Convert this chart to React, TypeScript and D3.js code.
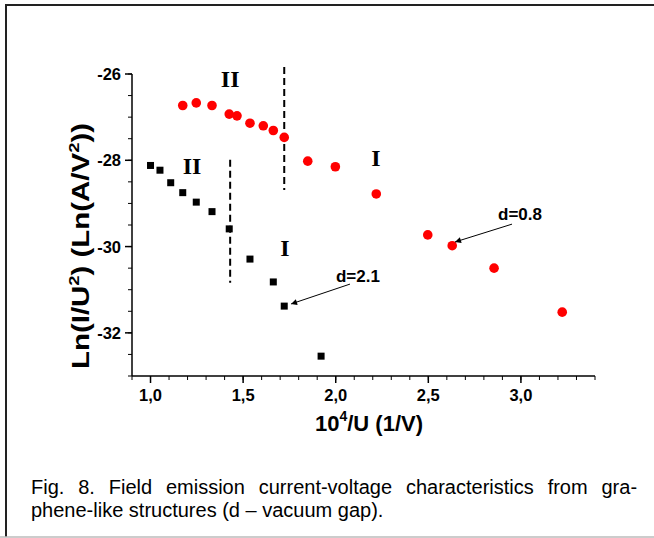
import React from "react";
import * as d3 from "d3";

const redX = [1.174, 1.247, 1.332, 1.425, 1.467, 1.537, 1.609, 1.663, 1.722, 1.849, 1.998, 2.219, 2.497, 2.629, 2.855, 3.223];
const redY = [-26.73, -26.67, -26.73, -26.93, -26.97, -27.14, -27.2, -27.31, -27.47, -28.02, -28.15, -28.78, -29.73, -29.98, -30.5, -31.52];
const blackX = [1.0, 1.051, 1.109, 1.174, 1.247, 1.332, 1.425, 1.537, 1.663, 1.722, 1.921];
const blackY = [-28.12, -28.23, -28.52, -28.75, -28.97, -29.19, -29.59, -30.29, -30.82, -31.38, -32.54];
const xMajorTicks = [1.0, 1.5, 2.0, 2.5, 3.0];
const xMinorTicks = d3.range(9, 35).map((v) => v / 10);
const yMajorTicks = [-26, -28, -30, -32];
const yMinorTicks = d3.range(-66, -51).map((v) => v / 2);
const dashLines = [
  { x: 1.722, y0: -25.84, y1: -28.69 },
  { x: 1.43, y0: -27.99, y1: -30.84 },
];
const regionLabels = [
  { t: "II", x: 1.43, y: -26.3 },
  { t: "II", x: 1.224, y: -28.32 },
  { t: "I", x: 2.217, y: -28.13 },
  { t: "I", x: 1.726, y: -30.22 },
];
const annotations = [
  { t: "d=2.1", tx: 2.12, ty: -30.82, ax: 2.077, ay: -30.87, px: 1.759, py: -31.33 },
  { t: "d=0.8", tx: 2.995, ty: -29.38, ax: 2.952, ay: -29.48, px: 2.644, py: -29.894 },
];
const caption1 = "Fig. 8. Field emission current-voltage characteristics from gra-";
const caption2 = "phene-like structures (d \u2013 vacuum gap).";

export default function App() {
  const x = d3.scaleLinear().domain([0.9, 3.4]).range([132, 595]);
  const y = d3.scaleLinear().domain([-33, -26]).range([376, 74]);
  const sans = "'Liberation Sans', Arial, sans-serif";
  const serif = "'Liberation Serif', 'Times New Roman', serif";
  const fmt = (v: number) => v.toFixed(1).replace(".", ",");
  return (
    <svg width={654} height={538} style={{ position: "absolute", left: 0, top: 0, background: "#fff" }}>
      <defs>
        <marker id="ah" viewBox="0 0 10 10" refX="10" refY="5" markerWidth="9" markerHeight="6" orient="auto" markerUnits="userSpaceOnUse">
          <path d="M0,0 L10,5 L0,10 z" fill="#000" />
        </marker>
      </defs>
      {/* frame */}
      <line x1={6} y1={5} x2={654} y2={5} stroke="#222" strokeWidth={2} />
      <line x1={6} y1={4} x2={6} y2={537} stroke="#222" strokeWidth={2} />
      <line x1={0} y1={537} x2={654} y2={537} stroke="#bbb" strokeWidth={1.5} />
      {/* axes */}
      <line x1={x(0.9)} y1={y(-33)} x2={x(3.4)} y2={y(-33)} stroke="#000" strokeWidth={1.5} />
      <line x1={x(0.9)} y1={y(-33)} x2={x(0.9)} y2={y(-26)} stroke="#000" strokeWidth={1.5} />
      {xMinorTicks.map((v, i) => (
        <line key={"xm" + i} x1={x(v)} x2={x(v)} y1={y(-33)} y2={y(-33) + 4} stroke="#000" strokeWidth={1} />
      ))}
      {xMajorTicks.map((v, i) => (
        <g key={"xM" + i}>
          <line x1={x(v)} x2={x(v)} y1={y(-33)} y2={y(-33) + 7} stroke="#000" strokeWidth={1.5} />
          <text x={x(v)} y={401} textAnchor="middle" fontFamily={sans} fontWeight="bold" fontSize={16.5}>{fmt(v)}</text>
        </g>
      ))}
      {yMinorTicks.map((v, i) => (
        <line key={"ym" + i} x1={x(0.9) - 4} x2={x(0.9)} y1={y(v)} y2={y(v)} stroke="#000" strokeWidth={1} />
      ))}
      {yMajorTicks.map((v, i) => (
        <g key={"yM" + i}>
          <line x1={x(0.9) - 7} x2={x(0.9)} y1={y(v)} y2={y(v)} stroke="#000" strokeWidth={1.5} />
          <text x={121} y={y(v) + 6} textAnchor="end" fontFamily={sans} fontWeight="bold" fontSize={16.5}>{v}</text>
        </g>
      ))}
      {/* axis titles */}
      <text x={369} y={431} textAnchor="middle" fontFamily={sans} fontWeight="bold" fontSize={22}>
        10<tspan fontSize={14} dy={-10}>4</tspan><tspan dy={10}>/U (1/V)</tspan>
      </text>
      <text transform="translate(89,246) rotate(-90)" textAnchor="middle" fontFamily={sans} fontWeight="bold" fontSize={24} textLength={246} lengthAdjust="spacingAndGlyphs">
        Ln(I/U<tspan fontSize={15} dy={-10}>2</tspan><tspan dy={10}>) (Ln(A/V</tspan><tspan fontSize={15} dy={-10}>2</tspan><tspan dy={10}>))</tspan>
      </text>
      {/* dashed lines */}
      {dashLines.map((d, i) => (
        <line key={"dl" + i} x1={x(d.x)} x2={x(d.x)} y1={y(d.y0)} y2={y(d.y1)} stroke="#000" strokeWidth={2} strokeDasharray="7,4" />
      ))}
      {/* region labels */}
      {regionLabels.map((r, i) => (
        <text key={"rl" + i} x={x(r.x)} y={y(r.y)} textAnchor="middle" fontFamily={serif} fontWeight="bold" fontSize={24}>{r.t}</text>
      ))}
      {/* data */}
      {redX.map((v, i) => (
        <circle key={"r" + i} cx={x(v)} cy={y(redY[i])} r={4.8} fill="#ff0000" />
      ))}
      {blackX.map((v, i) => (
        <rect key={"b" + i} x={x(v) - 3.5} y={y(blackY[i]) - 3.5} width={7} height={7} fill="#000" />
      ))}
      {/* annotations */}
      {annotations.map((a, i) => (
        <g key={"an" + i}>
          <text x={x(a.tx)} y={y(a.ty)} textAnchor="middle" fontFamily={sans} fontWeight="bold" fontSize={17}>{a.t}</text>
          <line x1={x(a.ax)} y1={y(a.ay)} x2={x(a.px)} y2={y(a.py)} stroke="#000" strokeWidth={1} markerEnd="url(#ah)" />
        </g>
      ))}
      {/* caption */}
      <text x={31} y={494} fontFamily={sans} fontSize={20} wordSpacing={8.3}>{caption1}</text>
      <text x={31} y={517} fontFamily={sans} fontSize={20}>{caption2}</text>
    </svg>
  );
}
